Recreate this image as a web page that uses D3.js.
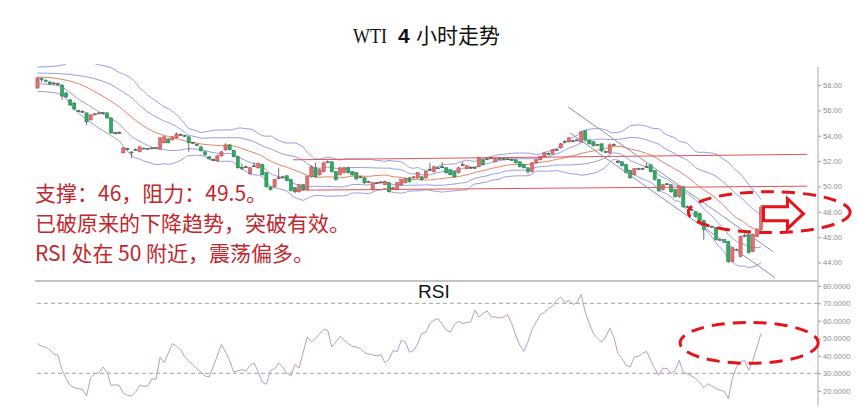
<!DOCTYPE html>
<html><head><meta charset="utf-8">
<script src="https://cdn.jsdelivr.net/npm/d3@7"></script>
<style>html,body{margin:0;padding:0;background:#fff}svg{display:block}</style>
</head><body>
<svg id="chart" width="857" height="417"></svg>
<script>
// ---------------- DATA ----------------
const opens = [57.76,58.50,58.38,58.24,58.12,58.10,58.00,57.37,56.82,56.58,55.98,55.92,55.80,55.25,55.68,55.76,55.82,55.80,55.40,54.24,
54.20,52.65,52.98,52.72,52.85,52.73,53.02,52.96,53.00,53.04,52.96,53.44,53.75,53.67,53.83,54.10,54.02,53.91,53.46,53.32,
53.12,52.73,52.34,52.14,52.02,52.41,52.89,53.28,52.85,52.34,51.50,51.52,51.00,51.60,51.47,51.71,51.08,49.97,49.97,50.65,
50.74,50.84,50.53,49.90,49.58,50.13,49.74,50.76,51.47,50.92,51.16,51.92,51.94,51.16,50.92,51.08,51.47,51.16,51.08,50.74,
50.68,50.35,49.74,50.27,50.35,50.13,50.29,49.85,49.74,50.13,50.29,50.68,50.68,50.68,50.76,50.68,51.31,51.16,51.47,51.55,
51.47,51.31,51.16,51.08,51.68,51.39,51.50,51.47,51.55,52.10,52.15,52.24,51.94,52.18,52.20,52.18,52.12,52.10,51.94,51.71,
51.47,51.16,51.86,52.10,52.34,52.60,52.57,52.88,53.04,53.52,53.52,53.60,53.65,53.52,54.38,53.67,53.52,53.28,53.36,52.75,
52.65,53.28,51.96,51.94,51.71,51.24,50.92,51.39,51.41,51.55,51.71,51.24,50.53,49.74,50.21,50.13,49.74,49.19,49.97,48.42,
48.20,48.01,47.85,47.30,46.91,46.85,46.75,45.82,45.80,45.65,44.07,45.00,44.47,46.12,46.20,44.86,46.04,46.59];
const highs = [58.62,58.60,58.45,58.30,58.25,58.20,58.05,57.45,56.90,56.65,56.05,56.00,55.85,55.70,55.80,55.85,55.88,55.85,55.45,54.30,
54.35,53.10,53.05,52.78,53.00,53.20,53.08,53.05,53.08,53.12,53.90,54.00,53.80,53.98,54.25,54.18,54.08,54.00,53.52,53.38,
53.20,52.80,52.40,52.20,52.50,52.80,53.40,53.35,52.90,52.40,51.80,51.65,51.55,51.90,51.90,51.80,51.10,50.00,50.60,51.47,
50.85,50.90,50.60,49.95,50.20,50.20,50.85,51.65,51.86,51.40,51.95,52.05,52.00,51.20,51.55,51.55,51.55,51.20,51.10,50.85,
50.75,50.45,50.35,50.35,50.42,50.45,50.35,50.00,50.35,50.60,50.70,50.75,50.80,51.15,50.80,51.25,51.86,51.65,51.55,51.94,
51.55,51.35,51.20,51.55,51.94,51.70,51.58,51.56,52.35,52.15,52.25,52.32,52.24,52.26,52.28,52.25,52.20,52.15,52.00,51.75,
51.50,51.95,52.15,52.40,52.70,52.68,52.95,52.96,53.45,53.65,53.90,53.68,53.75,54.40,54.45,53.70,53.56,53.36,53.40,52.82,
53.40,53.40,52.05,51.98,51.75,51.30,51.45,51.48,51.48,51.86,51.75,51.28,50.58,50.20,50.28,50.18,49.78,50.10,50.05,48.50,
48.28,48.06,47.90,47.35,47.00,46.92,46.80,45.90,45.85,45.70,45.25,45.10,46.12,46.30,46.30,46.30,46.70,48.55];
const lows = [57.70,58.20,58.20,58.00,58.05,57.95,56.82,56.95,56.35,56.00,55.85,55.80,54.85,55.20,55.62,55.70,55.70,55.35,54.15,54.10,
54.15,52.60,52.85,52.26,52.80,52.70,52.92,52.90,52.95,52.98,52.90,53.40,53.40,53.62,53.80,54.00,53.92,52.73,53.38,53.22,
52.75,52.40,52.10,52.00,51.95,52.35,52.80,52.85,52.30,51.40,51.30,51.45,50.90,51.50,51.40,50.85,49.90,49.70,49.90,50.60,
50.65,50.40,49.60,49.45,49.50,49.70,49.70,50.70,50.70,50.85,51.10,51.85,51.10,50.45,50.85,51.00,51.00,50.85,50.50,50.65,
50.20,50.30,49.65,50.20,50.28,50.10,49.50,49.80,49.70,50.05,50.25,50.30,50.60,50.60,50.45,50.60,51.20,51.10,51.38,51.45,
51.00,50.88,50.70,51.02,51.60,51.35,51.40,51.40,51.50,51.65,52.10,52.18,51.90,52.12,52.12,52.10,52.05,51.80,51.50,51.42,
51.00,51.10,51.80,52.05,52.30,52.50,52.52,52.80,53.00,53.45,53.45,53.52,53.58,53.45,53.60,53.30,53.15,53.20,52.70,52.66,
52.55,53.20,51.85,51.58,51.02,50.60,50.85,51.32,51.32,51.45,51.10,50.45,49.58,49.68,50.12,49.50,49.10,49.10,48.30,48.30,
48.10,47.55,47.25,45.80,46.82,46.75,45.72,45.72,45.55,43.95,44.00,44.92,44.40,46.00,44.70,44.80,46.00,46.50];
const closes = [58.55,58.42,58.30,58.08,58.16,58.05,57.13,57.06,56.43,56.11,55.95,55.87,55.09,55.64,55.72,55.80,55.78,55.40,54.22,54.20,
54.25,53.04,52.96,52.65,52.90,53.12,52.96,52.98,53.04,53.06,53.83,53.91,53.44,53.91,54.14,54.06,53.98,53.44,53.42,53.28,
52.81,52.49,52.18,52.10,52.41,52.73,53.28,52.89,52.34,51.47,51.47,51.55,51.47,51.63,51.79,50.92,49.97,49.74,50.53,50.68,
50.76,50.45,49.66,49.58,50.13,49.74,50.76,51.55,50.76,51.31,51.86,51.94,51.16,50.53,51.47,51.47,51.08,50.92,50.60,50.76,
50.29,50.37,50.29,50.29,50.33,50.37,49.58,49.88,50.29,50.53,50.60,50.37,50.76,51.08,50.53,51.16,51.33,51.55,51.45,51.52,
51.08,50.92,50.76,51.47,51.71,51.63,51.47,51.50,52.26,51.71,52.18,52.26,52.18,52.20,52.18,52.16,52.10,51.86,51.55,51.47,
51.16,51.86,52.10,52.34,52.65,52.57,52.89,52.90,53.36,53.55,53.83,53.59,53.67,54.30,53.67,53.36,53.20,53.30,52.81,52.73,
53.28,53.30,51.94,51.63,51.08,50.68,51.39,51.41,51.39,51.57,51.16,50.53,49.66,50.13,50.19,49.58,49.19,50.05,48.40,48.40,
48.17,47.61,47.30,46.59,46.89,46.83,45.80,45.80,45.60,44.07,45.17,45.02,46.04,46.14,44.78,46.20,46.59,48.32];
const rsi = [47.0,45.4,45.0,43.5,41.0,40.3,32.0,27.0,23.0,21.8,21.3,20.7,17.0,27.5,29.8,30.2,33.6,30.7,23.0,23.5,
23.1,18.6,17.4,17.0,19.3,23.1,22.6,22.7,26.9,26.6,39.3,36.1,41.5,47.0,45.5,43.5,39.5,37.0,35.0,32.5,
30.7,28.5,27.9,34.0,40.0,46.4,42.2,37.4,30.7,31.5,32.1,31.2,34.6,35.9,30.7,25.0,23.7,31.7,32.5,35.9,
33.6,30.0,28.5,35.0,33.0,42.0,50.7,48.0,49.8,52.5,55.1,54.6,45.0,48.0,51.1,49.0,47.0,45.5,45.0,44.1,
41.8,41.0,40.5,39.9,40.7,36.0,38.0,43.0,42.5,48.9,47.9,42.0,43.0,47.0,52.7,53.5,58.4,60.3,61.3,58.0,
54.6,53.6,57.8,59.7,58.4,59.0,59.3,66.0,62.2,64.1,65.6,62.2,62.2,61.6,62.2,63.5,58.5,51.7,46.0,42.6,
48.0,55.0,59.3,63.5,64.7,67.0,68.5,71.7,73.6,70.4,71.7,69.3,70.4,75.0,65.0,58.4,52.7,50.0,47.9,50.7,
55.9,50.7,41.3,38.4,34.6,33.6,39.3,39.7,41.3,42.6,37.4,32.7,28.9,33.0,32.7,30.0,31.7,37.4,30.4,29.8,
28.5,27.0,25.0,21.6,24.1,22.6,21.3,20.3,19.7,15.5,27.0,33.6,36.5,37.4,31.7,37.4,45.0,52.7];

// Bollinger band values read from the picture where the 20-bar window is not yet complete
const leadIdx = [0, 5, 10, 15];
const leadUp2 = [59.42, 59.50, 59.90, 59.60];
const leadUp1 = [58.94, 58.90, 58.75, 58.40];
const leadMid = [58.63, 58.50, 58.10, 57.30];
const leadLo1 = [58.10, 57.95, 56.90, 55.90];
const leadLo2 = [57.50, 57.35, 55.80, 54.60];

const priceTicks = [58, 56, 54, 52, 50, 48, 46, 44];
const rsiTicks = [80, 70, 60, 50, 40, 30, 20];
const rsiGuides = [70, 30];

// drawn lines (bar index, price)
const resistanceLine = [[62.5, 52.10], [188.3, 52.53]];
const supportLine = [[62.5, 49.70], [188.3, 50.02]];
const channelTop = [[129.8, 56.27], [179.9, 44.86]];
const channelBottom = [[130.3, 54.22], [180.4, 42.81]];
const priceZone = {i: 179.0, p: 47.97, di: 19.8, dp: 1.61};
const rsiZone = {i: 174.1, v: 47.4, di: 16.9, dv: 11.7};
const arrowAt = {i: 177.6, p: 47.85};

const titleParts = ["WTI", "4", "小时走势"];
const notes = ["支撑：46，阻力：49.5。", "已破原来的下降趋势，突破有效。", "RSI 处在 50 附近，震荡偏多。"];

// ---------------- CHART ----------------
const svg = d3.select('#chart');
const N = closes.length;
const x = d3.scaleLinear().domain([0, N - 1]).range([37.5, 761]);
const yP = d3.scaleLinear().domain([44, 58]).range([262.5, 85]);
const yR = d3.scaleLinear().domain([20, 80]).range([390.8, 285.8]);
const AX = 818;

const defs = svg.append('defs');
defs.append('clipPath').attr('id', 'pclip').append('rect').attr('x', 30).attr('y', 64).attr('width', 790).attr('height', 216);

// title
const tt = svg.append('text').attr('y', 43).attr('fill', '#111');
tt.append('tspan').attr('x', 353).attr('font-family', "'Liberation Serif', serif").attr('font-size', 21)
  .attr('textLength', 34).attr('lengthAdjust', 'spacingAndGlyphs').text(titleParts[0]);
tt.append('tspan').attr('x', 398).attr('font-family', "'Liberation Sans', Arial, sans-serif").attr('font-weight', 'bold').attr('font-size', 21).text(titleParts[1]);
tt.append('tspan').attr('x', 416).attr('font-family', "'Noto Sans CJK SC', sans-serif").attr('font-size', 21).text(titleParts[2]);

// frame lines
svg.append('line').attr('x1', AX).attr('x2', AX).attr('y1', 67).attr('y2', 406).attr('stroke', '#a8a8a8').attr('stroke-width', 1);
svg.append('line').attr('x1', 35).attr('x2', AX).attr('y1', 281).attr('y2', 281).attr('stroke', '#c4c4c4').attr('stroke-width', 2);

// axes
function styleAxis(g) {
  g.select('.domain').remove();
  g.selectAll('.tick line').attr('stroke', '#999');
  g.selectAll('.tick text').attr('fill', '#8c8c8c').attr('font-size', 7.6).attr('font-family', "'Liberation Sans', Arial, sans-serif");
}
svg.append('g').attr('transform', `translate(${AX},0)`)
  .call(d3.axisRight(yP).tickValues(priceTicks).tickSize(3).tickPadding(2).tickFormat(d => d.toFixed(2))).call(styleAxis);
svg.append('g').attr('transform', `translate(${AX},0)`)
  .call(d3.axisRight(yR).tickValues(rsiTicks).tickSize(3).tickPadding(2).tickFormat(d => d.toFixed(4))).call(styleAxis);

// price panel
const pg = svg.append('g').attr('clip-path', 'url(#pclip)');

// Bollinger bands (20, 1σ and 2σ)
const P = 20;
const bands = [[], [], [], [], []];
const leads = [leadUp2, leadUp1, leadMid, leadLo1, leadLo2];
leadIdx.forEach((li, k) => leads.forEach((arr, b) => bands[b].push([li, arr[k]])));
for (let i = P - 1; i < N; i++) {
  const w = closes.slice(i - P + 1, i + 1);
  const m = d3.mean(w);
  const s = Math.sqrt(d3.mean(w, v => (v - m) * (v - m)));
  [m + 2 * s, m + s, m, m - s, m - 2 * s].forEach((v, b) => bands[b].push([i, v]));
}
const bandLine = d3.line().x(d => x(d[0])).y(d => yP(d[1])).curve(d3.curveMonotoneX);
const bandColors = ['#9a9ae2', '#9a9ae2', '#e8806a', '#9a9ae2', '#9a9ae2'];
bands.forEach((b, k) => pg.append('path').attr('d', bandLine(b)).attr('fill', 'none')
  .attr('stroke', bandColors[k]).attr('stroke-width', 1));

// candles
const idx = d3.range(N);
const bw = 3.2;
pg.append('g').selectAll('line').data(idx).join('line')
  .attr('x1', i => x(i)).attr('x2', i => x(i))
  .attr('y1', i => yP(highs[i])).attr('y2', i => yP(lows[i]))
  .attr('stroke', '#4a4a4a').attr('stroke-width', 0.8);
pg.append('g').selectAll('rect').data(idx).join('rect')
  .attr('x', i => x(i) - bw / 2).attr('width', bw)
  .attr('y', i => yP(Math.max(opens[i], closes[i])))
  .attr('height', i => Math.max(1, Math.abs(yP(opens[i]) - yP(closes[i]))))
  .attr('fill', i => closes[i] >= opens[i] ? '#e46f6f' : '#2eaa62')
  .attr('stroke', i => Math.abs(closes[i] - opens[i]) < 0.06 ? '#444' : (closes[i] >= opens[i] ? '#b54848' : '#1f7d47'))
  .attr('stroke-width', 0.5);

// drawn lines
const seg = d3.line().x(d => x(d[0])).y(d => yP(d[1]));
[resistanceLine, supportLine].forEach(l => pg.append('path').attr('d', seg(l)).attr('stroke', '#dd5555').attr('stroke-width', 1).attr('fill', 'none'));
[channelTop, channelBottom].forEach(l => pg.append('path').attr('d', seg(l)).attr('stroke', '#8395ab').attr('stroke-width', 1).attr('fill', 'none'));

// annotations
const red = '#e3141b';
svg.append('ellipse').attr('cx', x(priceZone.i)).attr('cy', yP(priceZone.p))
  .attr('rx', x(priceZone.i + priceZone.di) - x(priceZone.i)).attr('ry', yP(priceZone.p - priceZone.dp) - yP(priceZone.p))
  .attr('fill', 'none').attr('stroke', red).attr('stroke-width', 3).attr('stroke-dasharray', '13,8');
const ax0 = x(arrowAt.i), ay0 = yP(arrowAt.p);
const arrowShape = [[0, -7], [24, -7], [24, -15], [40, 0], [24, 15], [24, 7], [0, 7]];
svg.append('polygon').attr('points', arrowShape.map(p => [ax0 + p[0], ay0 + p[1]].join(',')).join(' '))
  .attr('fill', '#fff').attr('stroke', red).attr('stroke-width', 3).attr('stroke-linejoin', 'miter');

// notes
notes.forEach((t, k) => svg.append('text').attr('x', 35).attr('y', 200.5 + k * 30)
  .attr('font-family', "'Noto Sans CJK SC', sans-serif").attr('font-size', 21).attr('fill', '#c0282e').text(t));

// RSI panel
rsiGuides.forEach(v => svg.append('line').attr('x1', 37).attr('x2', AX).attr('y1', yR(v)).attr('y2', yR(v))
  .attr('stroke', '#a0a0a0').attr('stroke-width', 1).attr('stroke-dasharray', '4,3'));
svg.append('text').attr('x', 418).attr('y', 298).attr('font-family', "'Liberation Sans', Arial, sans-serif")
  .attr('font-size', 19).attr('fill', '#111').text('RSI');
svg.append('path').attr('d', d3.line().x((d, i) => x(i)).y(d => yR(d))(rsi))
  .attr('fill', 'none').attr('stroke', '#b89cc4').attr('stroke-width', 1);
svg.append('ellipse').attr('cx', x(rsiZone.i)).attr('cy', yR(rsiZone.v))
  .attr('rx', x(rsiZone.i + rsiZone.di) - x(rsiZone.i)).attr('ry', yR(rsiZone.v - rsiZone.dv) - yR(rsiZone.v))
  .attr('fill', 'none').attr('stroke', red).attr('stroke-width', 3).attr('stroke-dasharray', '13,8');
</script>
</body></html>
